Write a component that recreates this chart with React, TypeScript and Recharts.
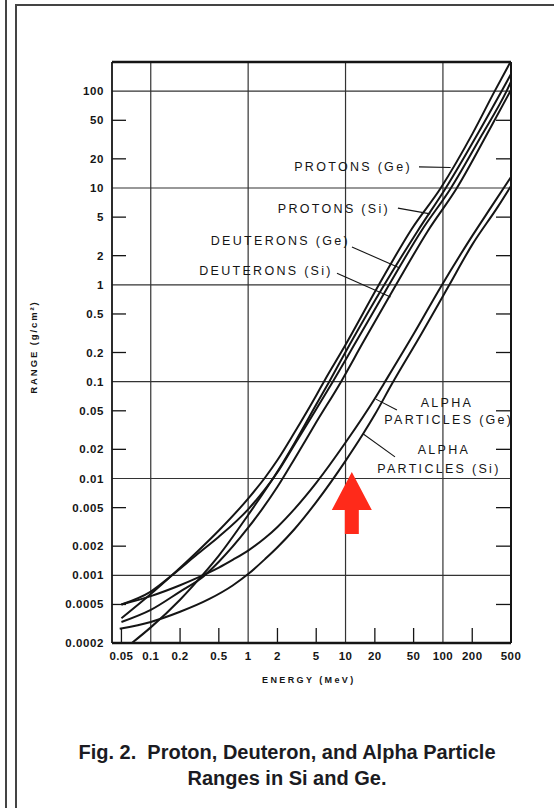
import React from 'react';
import { LineChart, Line, XAxis, YAxis, ReferenceLine, ReferenceDot } from 'recharts';

// axis ticks
const X_TICKS = [0.05, 0.1, 0.2, 0.5, 1, 2, 5, 10, 20, 50, 100, 200, 500];
const X_GRID = [0.1, 1, 10, 100];
const Y_TICKS = [
  0.0002, 0.0005, 0.001, 0.002, 0.005, 0.01, 0.02, 0.05, 0.1, 0.2, 0.5, 1, 2, 5, 10, 20, 50, 100,
];
const Y_GRID = [0.001, 0.01, 0.1, 1, 10, 100];

// [energy (MeV), range (g/cm2)]
const PROTONS_GE = [
  [0.05, 0.00036], [0.1, 0.00064], [0.165, 0.001], [0.3, 0.00175], [0.5, 0.0029], [1, 0.0062],
  [1.5, 0.0103], [2, 0.0155], [3, 0.03], [5, 0.072], [6, 0.1], [10, 0.24], [22, 1], [48, 3.8],
  [95, 10], [200, 36], [340, 100], [500, 205],
];
const PROTONS_SI = [
  [0.064, 0.0002], [0.1, 0.00029], [0.2, 0.00056], [0.35, 0.00104], [0.5, 0.0016], [1, 0.0042],
  [2, 0.0118], [3, 0.0233], [5, 0.058], [6.8, 0.1], [11, 0.24], [25, 1], [55, 3.6], [107, 10],
  [230, 37], [400, 100], [500, 150],
];
const DEUTERONS_GE = [
  [0.05, 0.0005], [0.1, 0.00068], [0.165, 0.001], [0.3, 0.00165], [0.5, 0.0025], [1, 0.0048],
  [1.5, 0.0078], [2, 0.0116], [3, 0.0225], [5, 0.052], [7.4, 0.1], [12, 0.23], [28, 1],
  [60, 3.6], [121, 10], [250, 35], [450, 100], [500, 125],
];
const DEUTERONS_SI = [
  [0.05, 0.00033], [0.1, 0.00044], [0.2, 0.00068], [0.35, 0.00098], [0.5, 0.00138], [1, 0.0031],
  [2, 0.0082], [3, 0.016], [5, 0.038], [9, 0.1], [15, 0.25], [33, 1], [70, 3.6], [139, 10],
  [300, 40], [500, 103],
];
const ALPHA_GE = [
  [0.05, 0.0005], [0.1, 0.00061], [0.2, 0.00079], [0.3, 0.00094], [0.5, 0.0012], [0.7, 0.00145],
  [1, 0.0018], [1.5, 0.00244], [2, 0.00316], [3, 0.00485], [5, 0.009], [10, 0.0235], [20, 0.067],
  [25, 0.097], [50, 0.31], [95, 0.95], [200, 3.2], [311, 6.3], [500, 13],
];
const ALPHA_SI = [
  [0.048, 0.00028], [0.1, 0.00033], [0.2, 0.00042], [0.4, 0.00057], [0.7, 0.00079], [1, 0.00103],
  [1.5, 0.00148], [2, 0.00195], [3, 0.00301], [5, 0.0057], [10, 0.0152], [15, 0.0284],
  [20, 0.0457], [30, 0.095], [60, 0.31], [113, 0.95], [200, 2.6], [370, 6.5], [500, 10.5],
];

const SERIES = [PROTONS_GE, PROTONS_SI, DEUTERONS_GE, DEUTERONS_SI, ALPHA_GE, ALPHA_SI];

// curve labels, anchored in data space
const CURVE_LABELS = [
  { e: 48, r: 16.5, text: 'PROTONS (Ge)', anchor: 'end' },
  { e: 28.6, r: 6.07, text: 'PROTONS (Si)', anchor: 'end' },
  { e: 11.1, r: 2.9, text: 'DEUTERONS (Ge)', anchor: 'end' },
  { e: 7.4, r: 1.42, text: 'DEUTERONS (Si)', anchor: 'end' },
  { e: 110, r: 0.0602, text: 'ALPHA', anchor: 'middle' },
  { e: 115, r: 0.0402, text: 'PARTICLES (Ge)', anchor: 'middle' },
  { e: 102.5, r: 0.0197, text: 'ALPHA', anchor: 'middle' },
  { e: 91, r: 0.01253, text: 'PARTICLES (Si)', anchor: 'middle' },
];
const LEADERS = [
  [[56.8, 16.5], [120, 16.3]],
  [[34.5, 6.2], [74, 5.4]],
  [[11.64, 2.46], [36, 1.49]],
  [[8.17, 1.32], [29, 0.75]],
  [[33.7, 0.0509], [20.5, 0.066]],
  [[32.2, 0.0167], [15.1, 0.029]],
];
const ARROW_AT = { e: 11.6, r: 0.0117 };

const FONT = '"Liberation Sans", Arial, sans-serif';
const INK = '#151515';

const rows = (pts: number[][]) => pts.map(([e, r]) => ({ e, r }));

const BottomTick = ({ x, y, payload }: any) => {
  const minor = !X_GRID.includes(payload.value);
  return (
    <g>
      {minor && <line x1={x} y1={y} x2={x} y2={y - 15} stroke={INK} strokeWidth={1.3} />}
      <text x={x} y={y + 17} textAnchor="middle" fontSize={11.5} fontWeight="bold" letterSpacing={0.4} fontFamily={FONT} fill={INK}>
        {payload.value}
      </text>
    </g>
  );
};

const TopTick = ({ x, y, payload }: any) =>
  X_GRID.includes(payload.value) ? <g /> : (
    <line x1={x} y1={y} x2={x} y2={y + 15} stroke={INK} strokeWidth={1.3} />
  );

const LeftTick = ({ x, y, payload }: any) => {
  const minor = !Y_GRID.includes(payload.value);
  return (
    <g>
      {minor && <line x1={x} y1={y} x2={x + 14} y2={y} stroke={INK} strokeWidth={1.3} />}
      <text x={x - 8} y={y} dy="0.35em" textAnchor="end" fontSize={11.5} fontWeight="bold" letterSpacing={0.6} fontFamily={FONT} fill={INK}>
        {payload.value}
      </text>
    </g>
  );
};

const RightTick = ({ x, y, payload }: any) =>
  Y_GRID.includes(payload.value) ? <g /> : (
    <line x1={x} y1={y} x2={x - 15} y2={y} stroke={INK} strokeWidth={1.3} />
  );

const ArrowShape = ({ cx, cy }: any) => (
  <polygon
    points={`${cx},${cy} ${cx + 20},${cy + 38} ${cx + 7},${cy + 38} ${cx + 7},${cy + 62} ${cx - 7},${cy + 62} ${cx - 7},${cy + 38} ${cx - 20},${cy + 38}`}
    fill="#ff2a1a"
  />
);

const labelShape = (text: string, anchor: string) => ({ cx, cy }: any) => (
  <text
    x={cx}
    y={cy}
    dy="0.36em"
    textAnchor={anchor}
    fontSize={12.5}
    letterSpacing={2.3}
    fontFamily={FONT}
    fill={INK}
  >
    {text}
  </text>
);

const frameLine = (style: React.CSSProperties): React.CSSProperties => ({
  position: 'absolute',
  background: '#444',
  ...style,
});

export default function App() {
  return (
    <div style={{ position: 'absolute', left: 0, top: 0, width: 554, height: 808, background: '#fff', overflow: 'hidden', fontFamily: FONT }}>
      <div style={frameLine({ left: 5, top: 0, width: 2, height: 808 })} />
      <div style={frameLine({ left: 15, top: 4, width: 2, height: 804 })} />
      <div style={frameLine({ left: 15, top: 4, width: 539, height: 2 })} />

      <div style={{ position: 'absolute', left: 0, top: 0 }}>
        <LineChart width={554} height={700} margin={{ top: 52, right: 33, bottom: 27, left: 52 }}>
          <XAxis
            dataKey="e"
            type="number"
            scale="log"
            domain={[0.04, 500]}
            allowDataOverflow
            ticks={X_TICKS}
            interval={0}
            tick={BottomTick}
            tickLine={false}
            tickSize={0}
            tickMargin={0}
            height={30}
            axisLine={{ stroke: INK, strokeWidth: 2.5 }}
          />
          <XAxis
            xAxisId="top"
            orientation="top"
            type="number"
            scale="log"
            domain={[0.04, 500]}
            allowDataOverflow
            ticks={X_TICKS}
            interval={0}
            tick={TopTick}
            tickLine={false}
            tickSize={0}
            tickMargin={0}
            height={10}
            axisLine={{ stroke: INK, strokeWidth: 2.5 }}
          />
          <YAxis
            type="number"
            scale="log"
            domain={[0.0002, 200]}
            allowDataOverflow
            ticks={Y_TICKS}
            interval={0}
            tick={LeftTick}
            tickLine={false}
            tickSize={0}
            tickMargin={0}
            width={60}
            axisLine={{ stroke: INK, strokeWidth: 1.8 }}
          />
          <YAxis
            yAxisId="right"
            orientation="right"
            type="number"
            scale="log"
            domain={[0.0002, 200]}
            allowDataOverflow
            ticks={Y_TICKS}
            interval={0}
            tick={RightTick}
            tickLine={false}
            tickSize={0}
            tickMargin={0}
            width={10}
            axisLine={{ stroke: INK, strokeWidth: 2 }}
          />

          {X_GRID.map((v) => (
            <ReferenceLine key={`gx${v}`} x={v} stroke="#333" strokeWidth={1.2} />
          ))}
          {Y_GRID.map((v) => (
            <ReferenceLine key={`gy${v}`} y={v} stroke="#333" strokeWidth={1.2} />
          ))}

          {SERIES.map((pts, i) => (
            <Line
              key={i}
              data={rows(pts)}
              dataKey="r"
              type="monotone"
              stroke={INK}
              strokeWidth={2}
              dot={false}
              activeDot={false}
              isAnimationActive={false}
            />
          ))}

          {LEADERS.map(([a, b], i) => (
            <ReferenceLine
              key={`ld${i}`}
              segment={[{ x: a[0], y: a[1] }, { x: b[0], y: b[1] }]}
              stroke={INK}
              strokeWidth={1.1}
            />
          ))}
          {CURVE_LABELS.map((l, i) => (
            <ReferenceDot key={`lb${i}`} x={l.e} y={l.r} r={0} shape={labelShape(l.text, l.anchor)} />
          ))}
          <ReferenceDot x={ARROW_AT.e} y={ARROW_AT.r} r={0} shape={ArrowShape} />
        </LineChart>
      </div>

      <div style={{ position: 'absolute', left: 262, top: 675, fontSize: 9, fontWeight: 'bold', letterSpacing: 2.4, color: INK, whiteSpace: 'nowrap' }}>
        ENERGY (MeV)
      </div>
      <div
        style={{
          position: 'absolute',
          left: 33,
          top: 347,
          transform: 'translate(-50%, -50%) rotate(-90deg)',
          fontSize: 9.5,
          fontWeight: 'bold',
          letterSpacing: 1.9,
          color: INK,
          whiteSpace: 'nowrap',
        }}
      >
        RANGE (g/cm²)
      </div>

      <div style={{ position: 'absolute', left: 0, width: 574, top: 739, textAlign: 'center', fontSize: 20, fontWeight: 'bold', color: '#1b1b22', lineHeight: '26px', whiteSpace: 'pre' }}>
        {'Fig. 2.  Proton, Deuteron, and Alpha Particle\nRanges in Si and Ge.'}
      </div>
    </div>
  );
}
